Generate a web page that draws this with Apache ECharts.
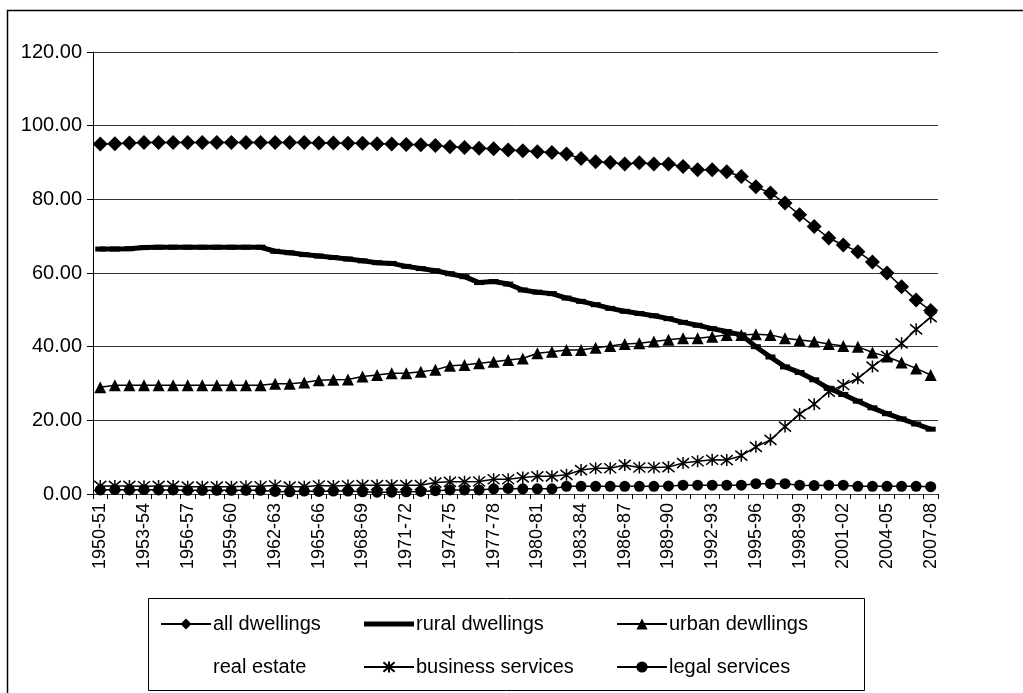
<!DOCTYPE html>
<html>
<head>
<meta charset="utf-8">
<script src="https://cdn.jsdelivr.net/npm/echarts@6/dist/echarts.min.js"></script>
<style>
html,body{margin:0;padding:0;background:#fff;}
#chart{width:1023px;height:693px;}
</style>
</head>
<body>
<div id="chart"></div>
<script>
const categories = ["1950-51","1951-52","1952-53","1953-54","1954-55","1955-56","1956-57","1957-58","1958-59","1959-60",
"1960-61","1961-62","1962-63","1963-64","1964-65","1965-66","1966-67","1967-68","1968-69","1969-70",
"1970-71","1971-72","1972-73","1973-74","1974-75","1975-76","1976-77","1977-78","1978-79","1979-80",
"1980-81","1981-82","1982-83","1983-84","1984-85","1985-86","1986-87","1987-88","1988-89","1989-90",
"1990-91","1991-92","1992-93","1993-94","1994-95","1995-96","1996-97","1997-98","1998-99","1999-00",
"2000-01","2001-02","2002-03","2003-04","2004-05","2005-06","2006-07","2007-08"];

const allDwellings = [95.0,95.1,95.3,95.4,95.4,95.4,95.4,95.4,95.4,95.4,
95.4,95.4,95.4,95.4,95.4,95.3,95.3,95.2,95.2,95.1,
95.0,94.9,94.8,94.6,94.3,94.1,93.9,93.7,93.4,93.2,
92.9,92.7,92.3,91.1,90.2,90.0,89.6,89.9,89.6,89.6,
88.9,88.0,88.0,87.5,86.2,83.4,81.7,79.0,75.8,72.6,
69.5,67.6,65.8,63.0,60.0,56.3,52.7,49.8];

const ruralDwellings = [66.5,66.5,66.6,66.9,67.0,67.0,67.0,67.0,67.0,67.0,
67.0,67.0,65.9,65.5,65.0,64.6,64.2,63.8,63.3,62.8,
62.6,61.8,61.2,60.6,59.8,59.0,57.4,57.7,57.0,55.4,
54.8,54.4,53.2,52.3,51.4,50.4,49.6,49.0,48.4,47.6,
46.6,45.8,44.9,44.1,43.2,40.0,37.2,34.5,33.0,31.0,
28.7,27.0,25.2,23.4,21.8,20.4,19.0,17.6];

const urbanDwellings = [29.0,29.5,29.5,29.5,29.5,29.5,29.5,29.5,29.5,29.5,
29.5,29.5,29.9,29.9,30.3,30.9,31.0,31.1,31.9,32.3,
32.8,32.8,33.2,33.7,34.8,35.0,35.5,35.9,36.4,36.8,
38.2,38.6,39.1,39.1,39.7,40.2,40.7,40.9,41.4,41.9,
42.3,42.3,42.7,43.2,43.2,43.4,43.2,42.3,41.8,41.4,
40.7,40.2,40.0,38.4,37.3,35.7,34.1,32.3];

const realEstate = [];

const businessServices = [2.2,2.2,2.2,2.1,2.2,2.2,2.0,2.0,2.0,2.0,
2.1,2.1,2.3,2.0,2.0,2.3,2.2,2.3,2.4,2.4,
2.4,2.4,2.4,3.1,3.3,3.3,3.4,4.0,4.0,4.5,
4.8,4.8,5.2,6.5,7.0,7.0,7.9,7.2,7.2,7.3,
8.4,8.9,9.3,9.2,10.4,12.8,14.7,18.3,21.7,24.4,
27.8,29.6,31.4,34.6,37.5,40.9,44.7,48.0];

const legalServices = [1.1,1.2,1.1,1.2,1.1,1.1,1.0,1.0,1.0,1.0,
1.0,1.0,0.7,0.6,0.8,0.7,0.8,0.8,0.6,0.5,
0.5,0.6,0.7,0.9,1.1,1.1,1.1,1.4,1.5,1.4,
1.4,1.4,2.1,2.1,2.1,2.1,2.1,2.1,2.1,2.2,
2.4,2.4,2.4,2.4,2.4,2.8,2.8,2.8,2.4,2.3,
2.4,2.4,2.1,2.1,2.1,2.1,2.1,2.0];

const yMin = 0, yMax = 120, yStep = 20;

const FONT = 'Liberation Sans, Arial, sans-serif';
const asterisk = 'path://M0,0L10,10M10,0L0,10M5,-1L5,11';

const chart = echarts.init(document.getElementById('chart'), null, {renderer:'canvas'});

function lineSeries(name, data, symbol, size, lw, extra) {
  return Object.assign({
    name: name, type: 'line', data: data,
    symbol: symbol, symbolSize: size, showSymbol: true, showAllSymbol: true,
    animation: false,
    itemStyle: {color: '#000'},
    lineStyle: {color: '#000', width: lw},
    emphasis: {disabled: true}
  }, extra || {});
}

const legendCommon = {
  orient: 'vertical', top: 609, itemGap: 23, itemWidth: 50, itemHeight: 14,
  textStyle: {fontFamily: FONT, fontSize: 20, color: '#000', padding: [0,0,0,-3]},
  selectedMode: false
};

const option = {
  backgroundColor: '#fff',
  animation: false,
  grid: {left: 93, right: 85, top: 52, bottom: 199, containLabel: false},
  xAxis: {
    type: 'category', data: categories, boundaryGap: true,
    axisLine: {show: true, lineStyle: {color: '#444', width: 1, type: [4,2]}},
    axisTick: {show: true, interval: 0, length: 5, lineStyle: {color: '#000'}},
    axisLabel: {interval: 2, rotate: 90, fontFamily: FONT, fontSize: 18, color: '#000', margin: 9},
    splitLine: {show: false}
  },
  yAxis: {
    type: 'value', min: yMin, max: yMax, interval: yStep,
    axisLine: {show: true, lineStyle: {color: '#000', width: 1}},
    axisTick: {show: true, length: 6, lineStyle: {color: '#000'}},
    axisLabel: {fontFamily: FONT, fontSize: 20, color: '#000', margin: 11,
      formatter: v => v.toFixed(2)},
    splitLine: {show: true, lineStyle: {color: '#333', width: 1}}
  },
  legend: [
    Object.assign({left: 155, data: [{name:'all dwellings'}, {name:'real estate', icon:'none'}]}, legendCommon),
    Object.assign({left: 358, data: [{name:'rural dwellings', icon:'path://M0,0L50,0L50,5L0,5Z'}, 'business services']}, legendCommon),
    Object.assign({left: 611, data: ['urban dewllings', 'legal services']}, legendCommon)
  ],
  graphic: [
    {type: 'rect', shape: {x: 7.5, y: 10.5, width: 1040, height: 700},
     style: {fill: 'none', stroke: '#000', lineWidth: 1.5}, silent: true, z: -1},
    {type: 'rect', shape: {x: 148.5, y: 598.5, width: 716, height: 92},
     style: {fill: 'none', stroke: '#000', lineWidth: 1}, silent: true}
  ],
  series: [
    lineSeries('all dwellings', allDwellings, 'diamond', 15, 1.5),
    lineSeries('rural dwellings', ruralDwellings, 'rect', [10, 5], 5),
    lineSeries('urban dewllings', urbanDwellings, 'triangle', 12, 1.5),
    lineSeries('real estate', realEstate, 'none', 0, 0, {lineStyle: {color: '#000', width: 0, opacity: 0}}),
    lineSeries('business services', businessServices, asterisk, 12, 1.5,
      {itemStyle: {color: 'none', borderColor: '#000', borderWidth: 1.5}}),
    lineSeries('legal services', legalServices, 'circle', 11, 1.5)
  ]
};
chart.setOption(option);
</script>
</body>
</html>
